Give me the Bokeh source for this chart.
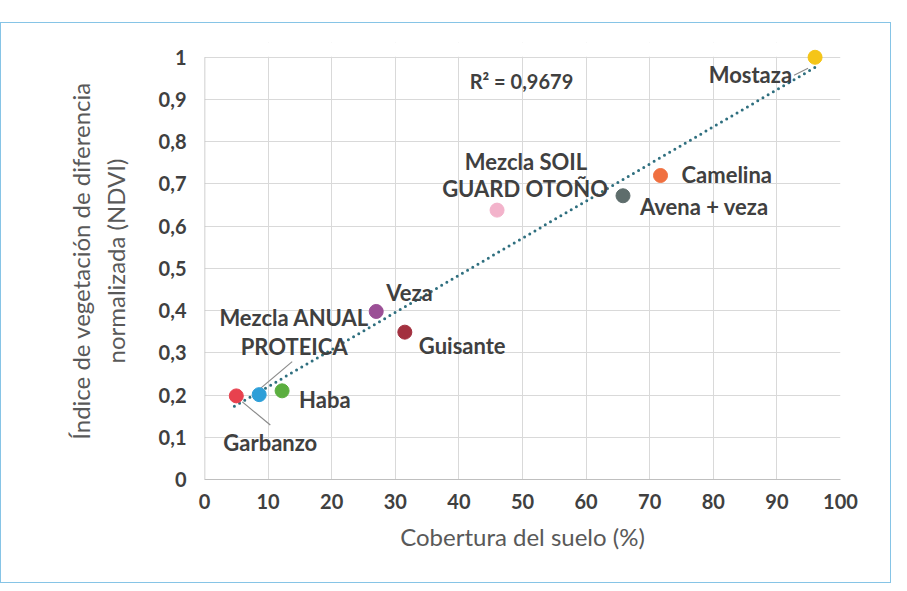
import numpy as np
from bokeh.plotting import figure
from bokeh.models import Range1d, FixedTicker, Label, Spacer, BoxAnnotation
from bokeh.layouts import column
from bokeh.core.properties import value
from bokeh.embed import file_html
from bokeh.resources import INLINE

# ---- data ----
cultivos = ["Garbanzo", "Mezcla ANUAL PROTEICA", "Haba", "Veza", "Guisante",
            "Mezcla SOIL GUARD OTOÑO", "Avena + veza", "Camelina", "Mostaza"]
cobertura = [5.0, 8.6, 12.2, 27.0, 31.5, 46.0, 65.8, 71.7, 96.0]
ndvi = [0.198, 0.201, 0.21, 0.398, 0.349, 0.638, 0.672, 0.72, 1.0]
colores = ["#E8414E", "#2E9FD8", "#5BAE3F", "#9B4F96", "#A3303F",
           "#F3B3CB", "#5E6D6C", "#F07040", "#F5C518"]
x_ticks = [0, 10, 20, 30, 40, 50, 60, 70, 80, 90, 100]
x_tick_labels = ["0", "10", "20", "30", "40", "50", "60", "70", "80", "90", "100"]
y_ticks = [0, 0.1, 0.2, 0.3, 0.4, 0.5, 0.6, 0.7, 0.8, 0.9, 1.0]
y_tick_labels = ["0", "0,1", "0,2", "0,3", "0,4", "0,5", "0,6", "0,7", "0,8", "0,9", "1"]
r2_text = "R² = 0,9679"

# label lines: (text, point index, dx px, dy px (down), align)
etiquetas = [
    ("Mostaza", 8, -23, 17, "right"),
    ("Camelina", 7, 21, -1, "left"),
    ("Avena + veza", 6, 17, 11, "left"),
    ("Mezcla SOIL", 5, 29, -49, "center"),
    ("GUARD OTOÑO", 5, 28, -22, "center"),
    ("Veza", 3, 10, -19, "left"),
    ("Guisante", 4, 14, 13, "left"),
    ("Mezcla ANUAL", 1, 35, -77, "center"),
    ("PROTEICA", 1, 35, -48, "center"),
    ("Haba", 2, 17, 9, "left"),
    ("Garbanzo", 0, 34, 47, "center"),
]
# leader lines: (point index, (dx0, dy0), (dx1, dy1)) in px
guias = [
    (0, (6, 6), (34, 29)),
    (1, (1, -6), (33, -33)),
    (8, (-21, 18), (-7, 11)),
]

YTOP = 1.035
FW, FH1 = 636, 422           # px for 0..100 and 0..1
FH = int(round(FH1 * YTOP))
W, H = 891, 561
ML = 203
MT = 34 - (FH - FH1)
MR = W - ML - FW
MB = H - MT - FH

p = figure(width=W, height=H, output_backend="svg", toolbar_location=None,
           x_range=Range1d(0, 100), y_range=Range1d(0, YTOP),
           min_border_left=ML, min_border_right=MR, min_border_top=MT,
           min_border_bottom=MB)
p.styles = {"border": "1.5px solid #86C4E6"}

TXT = "#404040"
for ax in (p.xaxis[0], p.yaxis[0]):
    ax.major_tick_line_color = None
    ax.minor_tick_line_color = None
    ax.major_label_text_font = "Lato"
    ax.major_label_text_font_style = "bold"
    ax.major_label_text_font_size = "20px"
    ax.major_label_text_color = TXT
    ax.axis_label_text_font = "Lato"
    ax.axis_label_text_font_style = "normal"
    ax.axis_label_text_font_size = "24px"
    ax.axis_label_text_color = "#595959"
p.xaxis.axis_line_color = "#BFBFBF"
p.yaxis.axis_line_color = None

p.xaxis.ticker = FixedTicker(ticks=x_ticks)
p.xaxis.major_label_overrides = {t: l for t, l in zip(x_ticks, x_tick_labels)}
p.yaxis.ticker = FixedTicker(ticks=y_ticks)
p.yaxis.major_label_overrides = {t: l for t, l in zip(y_ticks, y_tick_labels)}
p.xaxis.axis_label = "Cobertura del suelo (%)"
p.yaxis.axis_label = "Índice de vegetación de diferencia\nnormalizada (NDVI)"
p.xaxis.major_label_standoff = 8
p.xaxis.axis_label_standoff = 10
p.yaxis.major_label_standoff = 12
p.yaxis.axis_label_standoff = 26

p.xgrid.grid_line_color = "#D9D9D9"
p.ygrid.grid_line_color = "#D9D9D9"
p.grid.grid_line_width = 1
p.outline_line_color = None
p.background_fill_color = "white"
p.border_fill_color = "white"

# white cover above y = 1 (under the glyphs, over the grid)
p.add_layout(BoxAnnotation(bottom=1.0015, fill_color="white", fill_alpha=1,
                           line_color=None, level="underlay"))
# left frame edge (0..1)
p.line([0, 0], [0, 1], line_color="#BFBFBF", line_width=1.5)

# trend line (least squares)
xs = np.array(cobertura)
ys = np.array(ndvi)
m, b = np.polyfit(xs, ys, 1)
xl = [xs.min() - 0.3, xs.max()]
p.line(xl, [m * v + b for v in xl], line_color="#2F6F7F", line_width=3,
       line_dash="0 6", line_cap="round")

# leader lines
sx = FW / 100.0
sy = FH1 / 1.0
for i, a0, a1 in guias:
    x0 = cobertura[i] + a0[0] / sx
    y0 = ndvi[i] - a0[1] / sy
    x1 = cobertura[i] + a1[0] / sx
    y1 = ndvi[i] - a1[1] / sy
    p.line([x0, x1], [y0, y1], line_color="#8A8A8A", line_width=1.2)

p.scatter(cobertura, ndvi, size=14, fill_color=colores, line_color=colores)

for txt, i, dx, dy, al in etiquetas:
    p.text(x=[cobertura[i]], y=[ndvi[i]], text=[txt], x_offset=dx, y_offset=dy,
           text_align=al, text_baseline="middle", text_font=value("Lato"),
           text_font_style="bold", text_font_size="22px", text_color=TXT)

p.add_layout(Label(x=41.7, y=0.944, text=r2_text, text_align="left",
                   text_baseline="middle", text_font="Lato",
                   text_font_style="bold", text_font_size="20px",
                   text_color=TXT))

layout = column(Spacer(height=22, width=W), p)
open("out.html", "w").write(file_html(layout, INLINE))
